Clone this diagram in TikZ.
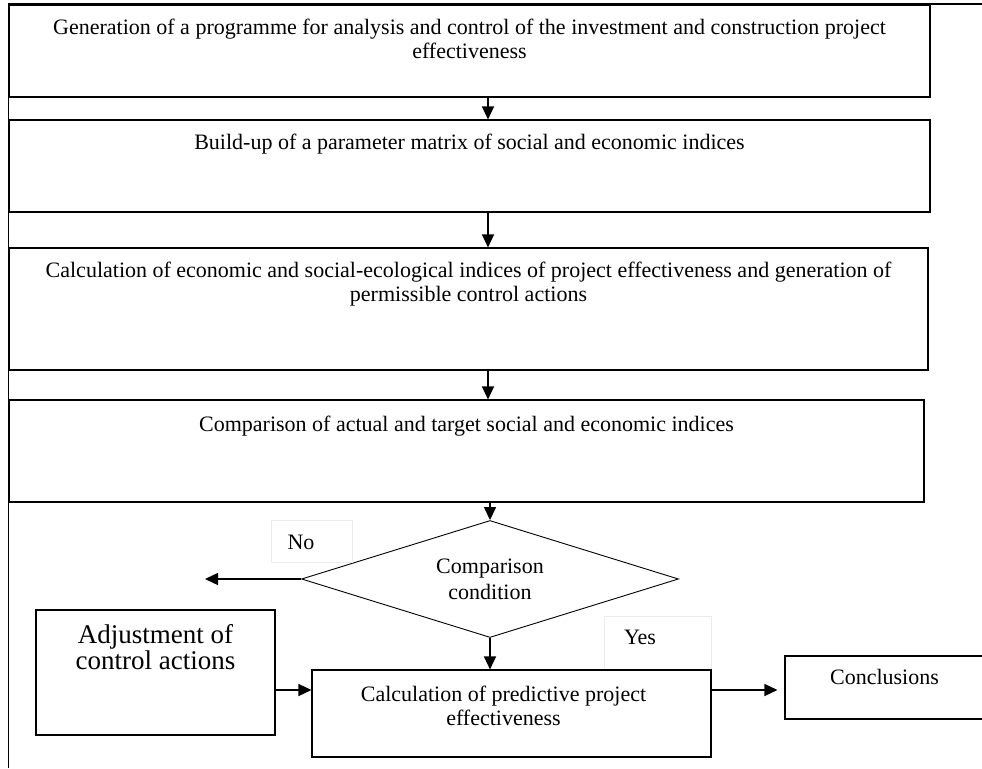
\documentclass[tikz,border=0pt]{standalone}
\usepackage{fontspec}
\setmainfont{Liberation Serif}
\usetikzlibrary{shapes.geometric,arrows.meta}
\tikzset{
  box/.style={draw, line width=1.1pt, inner sep=0pt},
  boxtext/.style={anchor=north, align=center, inner sep=0pt, font=\fontsize{22}{24}\selectfont},
  bigtext/.style={anchor=north, align=center, inner sep=0pt, font=\fontsize{27}{26}\selectfont},
  tagbox/.style={draw=black!8, line width=0.8pt, inner sep=0pt},
  tagtext/.style={inner sep=0pt, font=\fontsize{22}{24}\selectfont},
  arr/.style={line width=1.4pt, -{Triangle[length=13pt,width=12pt]}},
}

\begin{document}
\begin{tikzpicture}[x=1pt,y=1pt]
			%%%%% START %%%%%
			\useasboundingbox (0,0) rectangle (982,768);
			
			\draw[line width=0.9pt] (8,0) -- (8,764);
			\draw[line width=1.4pt] (8,764) -- (982,764);
			
			\node[box, minimum width=921pt, minimum height=92pt] (gen) at (469.5,717) {};
			\node[boxtext] (gentext) at ([yshift=-14pt]gen.north) {Generation of a programme for analysis and control of the investment and construction project\\effectiveness};
			
			\node[box, minimum width=921pt, minimum height=92pt] (params) at (469.5,602) {};
			\node[boxtext] (paramstext) at ([yshift=-14pt]params.north) {Build-up of a parameter matrix of social and economic indices};
			
			\node[box, minimum width=919pt, minimum height=122pt] (calcidx) at (468.5,459) {};
			\node[boxtext] (calcidxtext) at ([yshift=-14pt]calcidx.north) {Calculation of economic and social-ecological indices of project effectiveness and generation of\\permissible control actions};
			
			\node[box, minimum width=915pt, minimum height=102pt] (cmp) at (466.5,317) {};
			\node[boxtext] (cmptext) at ([yshift=-16pt]cmp.north) {Comparison of actual and target social and economic indices};
			
			\node[draw, diamond, aspect=3.2, line width=0.9pt, minimum width=377pt, minimum height=117pt, inner sep=0pt, align=center, font=\fontsize{22}{26}\selectfont] (cond) at (490,189) {Comparison\\condition};
			
			\node[tagbox, minimum width=81pt, minimum height=42pt] (notag) at (311.5,227) {};
			\node[tagtext] (no) at (301,226) {No};
			\node[tagbox, minimum width=107pt, minimum height=54pt] (yestag) at (657.5,125) {};
			\node[tagtext] (yes) at (640,131) {Yes};
			
			\node[box, minimum width=239pt, minimum height=125pt] (adj) at (155.5,95.5) {};
			\node[bigtext] (adjtext) at ([yshift=-15pt]adj.north) {Adjustment of\\control actions};
			
			\node[box, minimum width=399pt, minimum height=87pt] (calc) at (511.5,54.5) {};
			\node[boxtext] (calctext) at ([xshift=-8pt,yshift=-16pt]calc.north) {Calculation of predictive project\\effectiveness};
			
			\node[box, minimum width=199pt, minimum height=63pt] (concl) at (884.5,80.5) {};
			\node[boxtext] (concltext) at ([yshift=-14pt]concl.north) {Conclusions};
			
			%%%%% ARROWS %%%%%
			\coordinate (spine) at (488,0);
			\coordinate (noend) at (205,189);
			\coordinate (row) at (0,78);
			
			\draw[arr] (gen.south -| spine) -- (params.north -| spine);
			\draw[arr] (params.south -| spine) -- (calcidx.north -| spine);
			\draw[arr] (calcidx.south -| spine) -- (cmp.north -| spine);
			\draw[arr] (cmp.south -| cond.north) -- (cond.north);
			\draw[arr] (cond.west) -- (noend);
			\draw[arr] (cond.south) -- (cond.south |- calc.north);
			\draw[arr] (adj.east |- row) -- (calc.west |- row);
			\draw[arr, shorten >=7pt] (calc.east |- row) -- (concl.west |- row);
			
			%%%%% END %%%%%
\end{tikzpicture}
\end{document}
